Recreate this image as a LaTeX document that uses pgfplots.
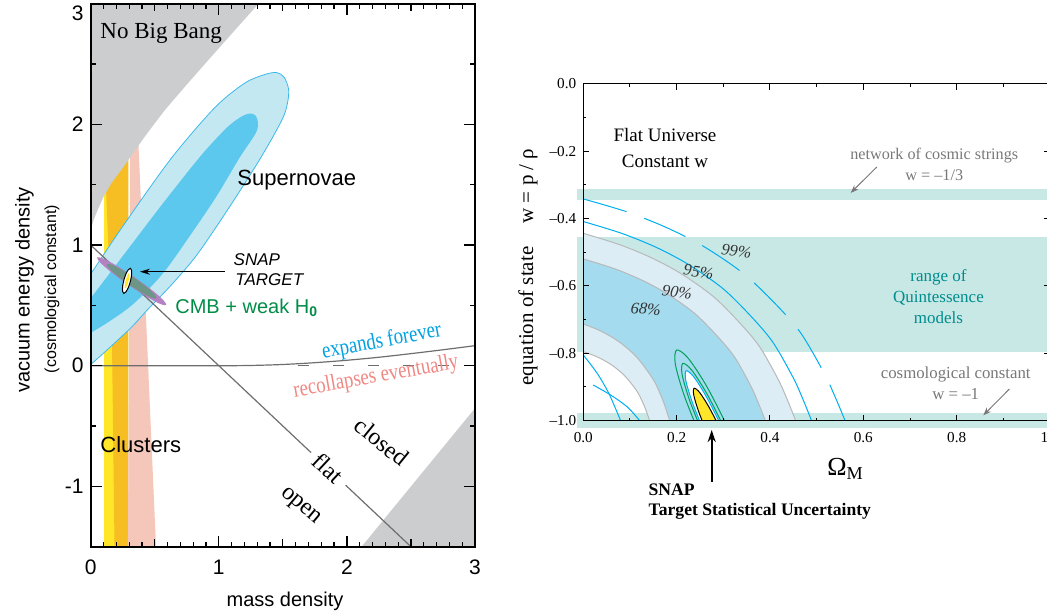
\documentclass[border=0pt]{standalone}
\usepackage{fontspec}
\setmainfont{Liberation Serif}
\setsansfont{Liberation Sans}
\usepackage{graphicx}
\usepackage{pgfplots}
\pgfplotsset{compat=1.18}
\usetikzlibrary{arrows.meta}
\definecolor{nbb}{RGB}{204,205,207}
\definecolor{snlight}{RGB}{196,232,242}
\definecolor{snedge}{RGB}{60,185,235}
\definecolor{sndark}{RGB}{92,200,238}
\definecolor{clyellow}{RGB}{255,230,40}
\definecolor{clorange}{RGB}{247,190,35}
\definecolor{clpink}{RGB}{245,198,186}
\definecolor{cmbpurple}{RGB}{180,130,195}
\definecolor{cmbgreen}{RGB}{110,150,135}
\definecolor{cmbtext}{RGB}{0,140,70}
\definecolor{expblue}{RGB}{0,160,225}
\definecolor{recpink}{RGB}{240,135,130}
\definecolor{flatgray}{RGB}{110,110,110}
\definecolor{band}{RGB}{200,232,230}
\definecolor{c68}{RGB}{164,219,238}
\definecolor{c90}{RGB}{221,237,245}
\definecolor{cline}{RGB}{185,185,185}
\definecolor{cyanl}{RGB}{0,174,239}
\definecolor{greenl}{RGB}{0,160,90}
\definecolor{quint}{RGB}{0,140,140}
\definecolor{annot}{RGB}{120,120,120}
\definecolor{pct}{RGB}{50,50,50}
\begin{document}
\begin{tikzpicture}
%================ LEFT =================
\begin{axis}[
  at={(45.35pt,34.15pt)}, anchor=south west, scale only axis,
  width=192.15pt, height=271.5pt,
  xmin=0, xmax=3, ymin=-1.5, ymax=3,
  xtick={0,1,2,3}, xticklabels={0,1,2,3},
  ytick={-1,0,1,2,3}, yticklabels={-1,0,1,2,{\raisebox{-5pt}[\height][\depth]{3}}},
  extra x ticks={0.5,1.5,2.5}, extra x tick labels={},
  extra x tick style={major tick length=3.8pt},
  minor x tick num=9, minor y tick num=1,
  tick align=inside, tick pos=both,
  major tick length=5.5pt, minor tick length=2.5pt,
  tick style={black, line width=0.6pt},
  axis line style={line width=0.9pt},
  tick label style={font=\sffamily\fontsize{10.5}{12}\selectfont},
  xticklabel style={yshift=-3pt},
  axis on top,
]
% clusters
\addplot[draw=none, fill=clyellow] coordinates {(0.103,-1.6)(0.20,-1.6)(0.20,2.0)(0.103,2.0)} -- cycle;
\addplot[draw=none, fill=clorange] coordinates {(0.186,-1.6)(0.295,-1.6)(0.295,2.0)(0.115,2.0)(0.12,1.45)(0.165,0.3)(0.186,-1.5)} -- cycle;
\addplot[draw=none, fill=clpink] coordinates {(0.29,-1.6)(0.514,-1.6)(0.366,2.0)(0.31,2.0)} -- cycle;
% no big bang
\addplot[draw=none, fill=nbb] coordinates {(-0.05,1.10)(0,1.10)(0.005,1.14)(0.02,1.20)(0.05,1.28)(0.10,1.40)(0.16,1.51)(0.23,1.61)(0.294,1.705)(0.43,1.91)(0.58,2.12)(0.75,2.33)(0.92,2.535)(1.10,2.75)(1.31,3.0)(1.35,3.05)(-0.05,3.05)} -- cycle;
\addplot[draw=none, fill=nbb] coordinates {(2.076,-1.55)(3.05,-0.288)(3.05,-1.55)} -- cycle;
% supernovae
\addplot[fill=snlight, draw=snedge, line width=0.4pt, smooth] coordinates {(-0.2,0.45)(0.0,0.76)(0.26,1.17)(0.63,1.72)(0.97,2.14)(1.20,2.34)(1.35,2.41)(1.45,2.43)(1.51,2.39)(1.545,2.29)(1.535,2.17)(1.49,2.03)(1.32,1.71)(1.08,1.31)(0.83,0.92)(0.63,0.67)(0.44,0.46)(0.30,0.30)(0.0,0.01)(-0.15,-0.1)(-0.25,0.15)(-0.2,0.45)} -- cycle;
\addplot[fill=sndark, draw=none, smooth] coordinates {(-0.15,0.37)(0.0,0.56)(0.28,0.95)(0.56,1.34)(0.86,1.74)(1.06,1.97)(1.17,2.06)(1.24,2.09)(1.285,2.075)(1.305,2.02)(1.29,1.93)(1.16,1.72)(0.98,1.40)(0.77,1.07)(0.56,0.76)(0.32,0.50)(0.06,0.31)(-0.15,0.2)(-0.2,0.28)(-0.15,0.37)} -- cycle;
% expansion boundary
\addplot[flatgray, line width=0.6pt, smooth] coordinates {(0,0)(1,0)(1.25,0.002)(1.5,0.01)(1.75,0.025)(2,0.045)(2.25,0.07)(2.5,0.10)(2.75,0.132)(3,0.166)};
\addplot[flatgray, line width=0.6pt, dash pattern=on 5.5pt off 12pt] coordinates {(1.62,0)(3,0)};
% flat line
\addplot[flatgray, line width=0.6pt] coordinates {(0,1)(1.72,-0.72)};
\addplot[flatgray, line width=0.6pt] coordinates {(1.99,-0.99)(2.5,-1.5)};
% CMB
\addplot[fill=cmbpurple, draw=none, smooth] coordinates {(0.3436,0.7322)(0.205,0.827)(0.098,0.888)(0.05,0.898)(0.074,0.855)(0.165,0.771)(0.2964,0.6678)(0.435,0.573)(0.542,0.512)(0.590,0.502)(0.566,0.545)(0.475,0.629)(0.3436,0.7322)} -- cycle;
\addplot[fill=cmbgreen, draw=none, smooth] coordinates {(0.341,0.728)(0.241,0.795)(0.163,0.837)(0.127,0.842)(0.142,0.809)(0.205,0.747)(0.299,0.672)(0.399,0.605)(0.477,0.563)(0.513,0.558)(0.498,0.591)(0.435,0.654)(0.341,0.728)} -- cycle;
% SNAP
\addplot[fill=white, draw=black, line width=0.5pt, smooth] coordinates {(0.2588,0.7093)(0.249,0.657)(0.249,0.616)(0.258,0.599)(0.274,0.610)(0.293,0.646)(0.3092,0.6967)(0.319,0.750)(0.319,0.790)(0.310,0.807)(0.294,0.796)(0.275,0.761)(0.2588,0.7093)} -- cycle;
\addplot[fill=clyellow, draw=none, smooth] coordinates {(0.2733,0.7057)(0.267,0.674)(0.265,0.650)(0.268,0.640)(0.276,0.647)(0.285,0.669)(0.2947,0.7003)(0.301,0.732)(0.303,0.756)(0.300,0.766)(0.292,0.759)(0.283,0.737)(0.2733,0.7057)} -- cycle;
% texts
\node[anchor=west, inner sep=0pt, font=\fontsize{11.5}{13}\selectfont] at (0.073,2.757) {No Big Bang};
\node[anchor=west, inner sep=0pt, font=\sffamily\fontsize{11}{13}\selectfont] at (1.142,1.539) {Supernovae};
\node[anchor=west, inner sep=0pt, font=\sffamily\itshape\fontsize{8.5}{10}\selectfont] at (1.113,0.876) {SNAP};
\node[anchor=west, inner sep=0pt, font=\sffamily\itshape\fontsize{8.5}{10}\selectfont] at (1.127,0.71) {TARGET};
\draw[black, line width=0.5pt, -{Stealth[length=5pt,width=3pt]}] (1.048,0.779) -- (0.385,0.779);
\node[anchor=west, inner sep=0pt, text=cmbtext, font=\sffamily\fontsize{10}{12}\selectfont] at (0.658,0.478) {CMB + weak H\textsubscript{\textbf{0}}};
\node[anchor=west, inner sep=0pt, font=\sffamily\fontsize{11}{13}\selectfont] at (0.073,-0.657) {Clusters};
\node[rotate=10.5, text=expblue, font=\fontsize{11.5}{13}\selectfont] at (2.272,0.199) {\scalebox{0.82}[1]{expands forever}};
\node[rotate=10, text=recpink, font=\fontsize{11.5}{13}\selectfont] at (2.227,-0.096) {\scalebox{0.82}[1]{recollapses eventually}};
\node[rotate=-39, inner sep=1pt, font=\fontsize{12}{14}\selectfont] at (2.272,-0.63) {closed};
\node[rotate=-43, inner sep=1pt, font=\fontsize{12}{14}\selectfont] at (1.855,-0.85) {flat};
\node[rotate=-40, inner sep=1pt, font=\fontsize{12}{14}\selectfont] at (1.634,-1.168) {open};
\end{axis}
%================ RIGHT: bands =================
\begin{axis}[
  at={(291.65pt,97.15pt)}, anchor=south west, scale only axis,
  width=233.35pt, height=168.5pt,
  xmin=0, xmax=1, ymin=-1, ymax=0, hide axis, clip=false,
]
\addplot[draw=none, fill=band] coordinates {(-0.013,-0.312)(1,-0.312)(1,-0.345)(-0.013,-0.345)} -- cycle;
\addplot[draw=none, fill=band] coordinates {(-0.013,-0.456)(1,-0.456)(1,-0.795)(-0.013,-0.795)} -- cycle;
\addplot[draw=none, fill=band] coordinates {(-0.013,-0.978)(1,-0.978)(1,-1.023)(-0.013,-1.023)} -- cycle;
\end{axis}
%================ RIGHT: main =================
\begin{axis}[
  at={(291.65pt,97.15pt)}, anchor=south west, scale only axis,
  width=233.35pt, height=168.5pt,
  xmin=0, xmax=1, ymin=-1, ymax=0,
  xtick={0,0.2,0.4,0.6,0.8,1}, xticklabels={0.0,0.2,0.4,0.6,0.8,1.0},
  ytick={-1,-0.8,-0.6,-0.4,-0.2,0}, yticklabels={–1.0,–0.8,–0.6,–0.4,–0.2,0.0},
  minor x tick num=1, minor y tick num=1,
  tick align=inside, tick pos=both,
  major tick length=3pt, minor tick length=1.5pt,
  tick style={black, line width=0.5pt},
  axis line style={line width=0.8pt},
  tick label style={font=\fontsize{7.6}{9}\selectfont},
  xticklabel style={yshift=-2.5pt},
  axis on top,
]
% 90% ring
\addplot[fill=c90, draw=none, smooth] coordinates {(-0.03,-0.431)(0,-0.444)(0.0774,-0.4774)(0.1456,-0.5163)(0.2093,-0.5635)(0.2776,-0.6303)(0.3322,-0.7053)(0.3777,-0.7804)(0.4186,-0.8805)(0.4391,-0.9444)(0.455,-1.0)(0.462,-1.025)(0.30,-1.08)(0.140,-1.025)(0.142,-1.0)(0.137,-0.9795)(0.1306,-0.9559)(0.1179,-0.919)(0.1037,-0.8913)(0.0866,-0.8637)(0.0653,-0.8391)(0.0454,-0.8216)(0.0241,-0.8073)(0,-0.795)(-0.03,-0.78)(-0.06,-0.6)(-0.03,-0.431)} -- cycle;
% 68% ring
\addplot[fill=c68, draw=none, smooth] coordinates {(-0.03,-0.507)(0,-0.52)(0.0663,-0.5488)(0.1248,-0.5824)(0.1794,-0.6232)(0.2379,-0.6808)(0.2847,-0.7456)(0.3237,-0.8104)(0.3588,-0.8968)(0.3764,-0.952)(0.39,-1.0)(0.396,-1.025)(0.28,-1.08)(0.184,-1.025)(0.185,-1.0)(0.1785,-0.9713)(0.1702,-0.9383)(0.1536,-0.8866)(0.1351,-0.8479)(0.1129,-0.8091)(0.0851,-0.7747)(0.0592,-0.7503)(0.0315,-0.7302)(0,-0.713)(-0.03,-0.698)(-0.06,-0.6)(-0.03,-0.507)} -- cycle;
\addplot[cline, line width=0.5pt, smooth] coordinates {(0,-0.444)(0.0774,-0.4774)(0.1456,-0.5163)(0.2093,-0.5635)(0.2776,-0.6303)(0.3322,-0.7053)(0.3777,-0.7804)(0.4186,-0.8805)(0.4391,-0.9444)(0.455,-1.0)(0.46,-1.02)};
\addplot[cline, line width=0.5pt, smooth] coordinates {(0,-0.795)(0.0241,-0.8073)(0.0454,-0.8216)(0.0653,-0.8391)(0.0866,-0.8637)(0.1037,-0.8913)(0.1179,-0.919)(0.1306,-0.9559)(0.137,-0.9795)(0.142,-1.0)(0.144,-1.02)};
\addplot[cline, line width=0.5pt, smooth] coordinates {(0,-0.52)(0.0663,-0.5488)(0.1248,-0.5824)(0.1794,-0.6232)(0.2379,-0.6808)(0.2847,-0.7456)(0.3237,-0.8104)(0.3588,-0.8968)(0.3764,-0.952)(0.39,-1.0)(0.394,-1.02)};
\addplot[cline, line width=0.5pt, smooth] coordinates {(0,-0.713)(0.0315,-0.7302)(0.0592,-0.7503)(0.0851,-0.7747)(0.1129,-0.8091)(0.1351,-0.8479)(0.1536,-0.8866)(0.1702,-0.9383)(0.1785,-0.9713)(0.185,-1.0)(0.187,-1.02)};
% 95 and 99 outer
\addplot[cyanl, line width=0.5pt, smooth] coordinates {(0,-0.409)(0.0831,-0.4445)(0.1565,-0.4858)(0.2249,-0.5361)(0.2983,-0.607)(0.357,-0.6868)(0.4059,-0.7666)(0.4499,-0.8729)(0.4719,-0.9409)(0.489,-1.0)(0.494,-1.02)};
\addplot[cyanl, line width=0.5pt, smooth, dash pattern=on 22.5pt off 9.5pt] coordinates {(0,-0.342)(0.095,-0.381)(0.180,-0.428)(0.258,-0.483)(0.342,-0.562)(0.410,-0.651)(0.466,-0.740)(0.516,-0.859)(0.541,-0.934)(0.561,-1.0)(0.567,-1.02)};
% inner cyan lines
\addplot[cyanl, line width=0.5pt, smooth] coordinates {(0,-0.805)(0.03,-0.86)(0.055,-0.92)(0.08,-1.0)(0.086,-1.02)};
\addplot[cyanl, line width=0.5pt, smooth] coordinates {(0.021,-0.894)(0.06,-0.925)(0.095,-0.96)(0.121,-1.0)(0.134,-1.02)};
% SNAP target contours
\addplot[greenl, line width=0.5pt, smooth] coordinates {(0.3605,-1.2762)(0.3361,-1.2523)(0.2968,-1.1697)(0.2530,-1.0505)(0.2166,-0.9267)(0.1971,-0.8315)(0.2001,-0.7902)(0.2245,-0.8142)(0.2638,-0.8967)(0.3076,-1.0159)(0.3440,-1.1397)(0.3635,-1.235)(0.3605,-1.2762)} -- cycle;
\addplot[greenl, line width=0.5pt, smooth] coordinates {(0.3474,-1.2365)(0.328,-1.2159)(0.2958,-1.1463)(0.2594,-1.0464)(0.2286,-0.9429)(0.2118,-0.8637)(0.2132,-0.8299)(0.2326,-0.8505)(0.2648,-0.9201)(0.3012,-1.0200)(0.3320,-1.1235)(0.3488,-1.2027)(0.3474,-1.2365)} -- cycle;
\addplot[fill=white, draw=cyanl, line width=0.5pt, smooth] coordinates {(0.3402,-1.2146)(0.3235,-1.1958)(0.2953,-1.1334)(0.2629,-1.0442)(0.2353,-0.952)(0.2197,-0.8816)(0.2204,-0.8518)(0.2371,-0.8706)(0.2653,-0.9330)(0.2977,-1.0222)(0.3253,-1.1144)(0.3409,-1.1848)(0.3402,-1.2146)} -- cycle;
\addplot[fill=clyellow, draw=black, line width=0.5pt, smooth] coordinates {(0.3231,-1.1628)(0.311,-1.1495)(0.2906,-1.105)(0.2674,-1.0413)(0.2478,-0.9754)(0.2368,-0.9251)(0.2375,-0.9036)(0.2496,-0.9169)(0.2700,-0.9614)(0.2932,-1.0251)(0.3128,-1.091)(0.3238,-1.1413)(0.3231,-1.1628)} -- cycle;
% texts
\node[align=center, font=\fontsize{9.5}{13}\selectfont] at (0.175,-0.19) {Flat Universe\\Constant w};
\node[align=center, text=annot, font=\fontsize{8.1}{10.5}\selectfont] at (0.752,-0.239) {network of cosmic strings\\w = –1/3};
\draw[annot, line width=0.5pt, -{Stealth[length=4pt,width=3pt]}] (0.629,-0.247) -- (0.573,-0.324);
\node[text=pct, rotate=-8, font=\itshape\fontsize{8.2}{10}\selectfont] at (0.328,-0.4964) {99\%};
\node[text=pct, rotate=-8, font=\itshape\fontsize{8.2}{10}\selectfont] at (0.247,-0.558) {95\%};
\node[text=pct, rotate=-8, font=\itshape\fontsize{8.2}{10}\selectfont] at (0.201,-0.619) {90\%};
\node[text=pct, rotate=-5, font=\itshape\fontsize{8.2}{10}\selectfont] at (0.134,-0.669) {68\%};
\node[align=center, text=quint, font=\fontsize{8.5}{10.5}\selectfont] at (0.761,-0.632) {range of\\Quintessence\\models};
\node[align=center, text=annot, font=\fontsize{8.4}{10.5}\selectfont] at (0.798,-0.890) {cosmological constant\\w = –1};
\draw[annot, line width=0.5pt, -{Stealth[length=4pt,width=3pt]}] (0.913,-0.906) -- (0.857,-0.984);
\end{axis}
%================ outer labels =================
\node[rotate=90, font=\sffamily\fontsize{10}{12}\selectfont] at (12.25pt,162.5pt) {vacuum energy density};
\node[rotate=90, font=\sffamily\fontsize{8}{10}\selectfont] at (26pt,163pt) {(cosmological constant)};
\node[font=\sffamily\fontsize{10}{12}\selectfont] at (142.5pt,6.65pt) {mass density};
\node[rotate=90, font=\fontsize{10.5}{12}\selectfont] at (264pt,174pt) {equation of state\hspace{1.1em}w = p / ρ};
\node[font=\fontsize{13}{15}\selectfont] at (422.75pt,73pt) {Ω\textsubscript{M}};
\node[anchor=west, inner sep=0pt, font=\bfseries\fontsize{8.8}{10.5}\selectfont] at (324.15pt,62.4pt) {SNAP};
\node[anchor=west, inner sep=0pt, font=\bfseries\fontsize{8.8}{10.5}\selectfont] at (324.15pt,51.95pt) {Target Statistical Uncertainty};
\draw[line width=1pt, -{Stealth[length=6pt,width=4pt]}] (355.85pt,66.5pt) -- (355.85pt,92.5pt);
\pgfresetboundingbox
\path[use as bounding box] (0,0) rectangle (523.5pt,307.5pt);
\end{tikzpicture}
\end{document}
